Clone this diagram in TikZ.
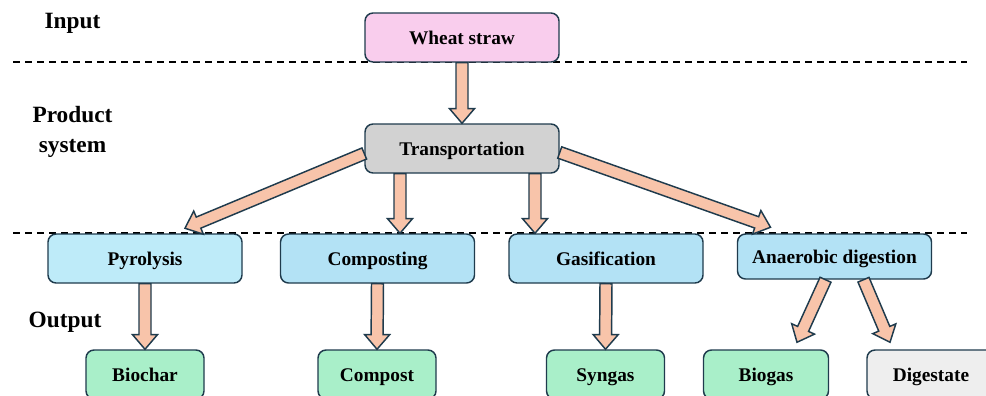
\documentclass[tikz,border=0pt]{standalone}
\usepackage{fontspec}
\setmainfont{Liberation Serif}
\usetikzlibrary{calc}

\newlength\pxu \setlength\pxu{0.75pt}

\definecolor{edgeline}{HTML}{1F3B4D}
\definecolor{pinkfill}{HTML}{F9CDED}
\definecolor{grayfill}{HTML}{D2D2D2}
\definecolor{pyrofill}{HTML}{BEEBF9}
\definecolor{bluefill}{HTML}{B3E2F5}
\definecolor{greenfill}{HTML}{A9EFC9}
\definecolor{digestfill}{HTML}{EEEEEE}
\definecolor{arrowfill}{HTML}{F8C4AA}

\tikzset{
  stage/.style={draw=edgeline, line width=1.1pt, rounded corners=6pt, inner sep=0pt,
    font=\fontsize{14.5}{16}\selectfont\bfseries, text height=12pt, text depth=1pt,
    minimum width=194\pxu, minimum height=49\pxu},
  product/.style={stage, minimum width=118\pxu},
  phase/.style={font=\fontsize{17.5}{22.5}\selectfont\bfseries, align=center, inner sep=0pt},
  divider/.style={dashed, line width=0.9pt, dash pattern=on 5pt off 4pt},
  flowarrow/.style={draw=edgeline, fill=arrowfill, line width=1.1pt}
}

% block arrow from #1 to #2 (tip at #2)
\newcommand\blockarrow[2]{%
  \coordinate (ba-a) at (#1);
  \coordinate (ba-b) at (#2);
  \coordinate (ba-h) at ($(ba-b)!11pt!(ba-a)$);
  \filldraw[flowarrow] ($(ba-a)!4.5pt!90:(ba-b)$) -- ($(ba-h)!4.5pt!90:(ba-b)$)
    -- ($(ba-h)!9.4pt!90:(ba-b)$) -- (ba-b) -- ($(ba-h)!9.4pt!-90:(ba-b)$)
    -- ($(ba-h)!4.5pt!-90:(ba-b)$) -- ($(ba-a)!4.5pt!-90:(ba-b)$) -- cycle;
}

\begin{document}
\begin{tikzpicture}[x=0.75pt, y=-0.75pt]

  \useasboundingbox (0,0) rectangle (986,396);
  \clip (0,0) rectangle (986,396);

  % phases
  \node[phase] (input) at (72.5,23) {Input};
  \node[phase] (system) at (72.5,132) {Product\\system};
  \node[phase] (output) at (65,322) {Output};
  \draw[divider] (13,62) -- (967,62);
  \draw[divider] (13,233) -- (967,233);

  % boxes
  \node[stage, fill=pinkfill] (wheat) at (462,37.5) {Wheat straw};
  \node[stage, fill=grayfill] (transport) at (462,148.5) {Transportation};
  \node[stage, fill=pyrofill] (pyrolysis) at (145,258.5) {Pyrolysis};
  \node[stage, fill=bluefill] (composting) at (377.5,258.5) {Composting};
  \node[stage, fill=bluefill] (gasification) at (606,258.5) {Gasification};
  \node[stage, fill=bluefill, minimum height=45\pxu] (anaerobic) at (834.5,256.5) {Anaerobic digestion};
  \node[product, fill=greenfill] (biochar) at (145,374.5) {Biochar};
  \node[product, fill=greenfill] (compost) at (377,374.5) {Compost};
  \node[product, fill=greenfill] (syngas) at (605.5,374.5) {Syngas};
  \node[product, fill=greenfill, minimum width=125\pxu] (biogas) at (766,374.5) {Biogas};
  \node[product, fill=digestfill, minimum width=128\pxu] (digestate) at (931,374.5) {Digestate};

  % flows
  \blockarrow{wheat.south}{transport.north}
  \coordinate (t-comp) at ($(transport.south)+(-62,0)$);
  \coordinate (t-gas) at ($(transport.south)+(73,0)$);
  \blockarrow{$(transport.west)+(0,5)$}{$(pyrolysis.north)+(40,-5)$}
  \blockarrow{t-comp}{t-comp |- composting.north}
  \blockarrow{t-gas}{t-gas |- gasification.north}
  \blockarrow{$(transport.east)+(0,4)$}{$(anaerobic.north)+(-64,-6)$}
  \blockarrow{pyrolysis.south}{biochar.north}
  \blockarrow{composting.south}{compost.north}
  \blockarrow{gasification.south}{syngas.north}
  \blockarrow{$(anaerobic.south)+(-9,0)$}{$(biogas.north)+(31,-7)$}
  \blockarrow{$(anaerobic.south)+(29,0)$}{$(digestate.north)+(-41,-7)$}

\end{tikzpicture}
\end{document}
